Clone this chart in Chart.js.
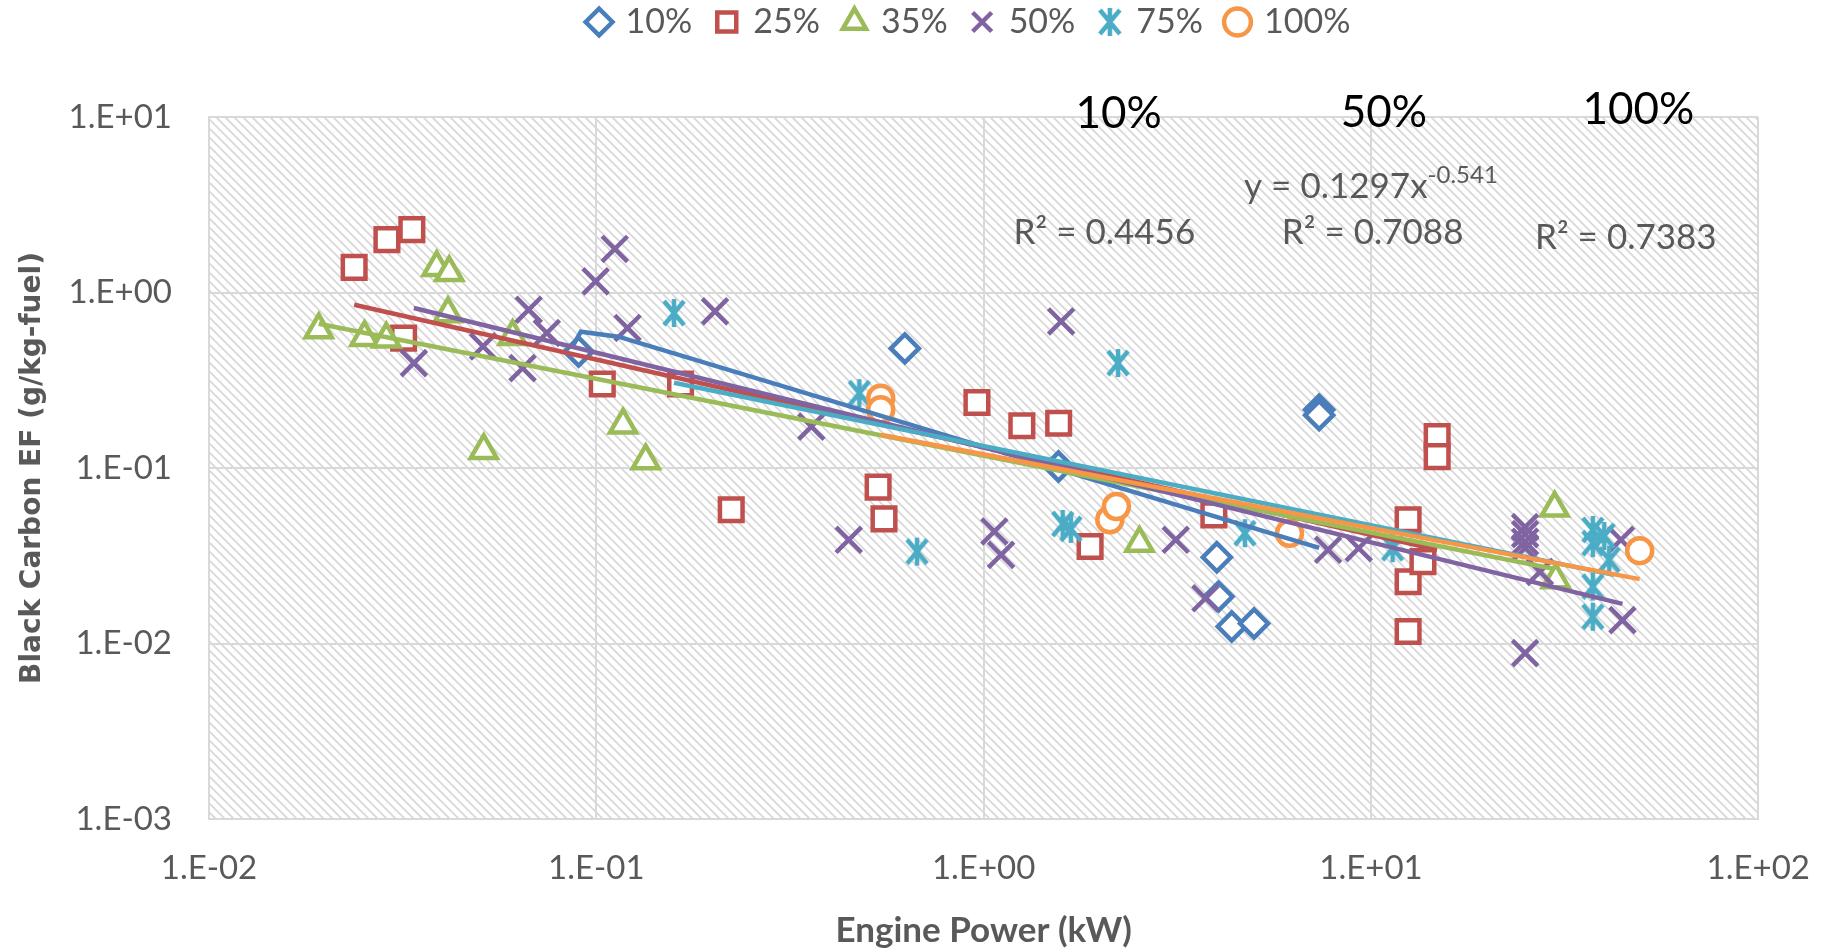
<!DOCTYPE html>
<html>
<head>
<meta charset="utf-8">
<script src="https://cdn.jsdelivr.net/npm/chart.js@4.4.1/dist/chart.umd.min.js"></script>
<style>
  html, body { margin: 0; padding: 0; background: #fff; }
  #wrap { width: 1840px; height: 949px; }
</style>
</head>
<body>
<div id="wrap"><canvas id="chart" width="1840" height="949"></canvas></div>
<script>
// engine load series (x = engine power kW, y = black carbon EF g/kg-fuel)
var loadNames = ['10%', '25%', '35%', '50%', '75%', '100%']
var loadColors = ['#4A7EBB', '#C0504D', '#9BBB59', '#8064A2', '#4BACC6', '#F79646']

var x10 = [0.090, 0.626, 1.56, 7.35, 7.35, 4.00, 4.04, 4.37, 4.99]
var y10 = [0.46, 0.48, 0.102, 0.215, 0.200, 0.031, 0.0185, 0.0125, 0.013]

var x25 = [0.0237, 0.0288, 0.0334, 0.0318, 0.1036, 0.165, 0.223, 0.534, 0.553, 0.961, 1.255, 1.562, 1.883, 3.93, 12.47, 12.47, 12.47, 13.62, 14.82, 14.82]
var y25 = [1.39, 2.00, 2.28, 0.55, 0.301, 0.301, 0.0578, 0.0778, 0.0513, 0.236, 0.174, 0.180, 0.0357, 0.0541, 0.0507, 0.0225, 0.0117, 0.0293, 0.151, 0.116]

var x35 = [0.0192, 0.0252, 0.0287, 0.0387, 0.0417, 0.0414, 0.0608, 0.0512, 0.1172, 0.1341, 2.525, 29.8, 30.0]
var y35 = [0.614, 0.555, 0.543, 1.39, 1.30, 0.757, 0.562, 0.126, 0.176, 0.110, 0.0373, 0.0591, 0.0231]

var x50 = [0.0338, 0.0510, 0.0669, 0.0745, 0.0645, 0.0996, 0.1116, 0.1204, 0.2025, 0.359, 0.4485, 1.066, 1.109, 1.585, 3.133, 3.738, 7.749, 9.296, 25.0, 25.0, 25.0, 25.0, 25.0, 27.3, 44.2, 44.6]
var y50 = [0.396, 0.493, 0.798, 0.588, 0.371, 1.157, 1.77, 0.628, 0.780, 0.172, 0.039, 0.0435, 0.032, 0.684, 0.039, 0.0181, 0.0342, 0.0349, 0.046, 0.042, 0.038, 0.035, 0.00881, 0.0256, 0.039, 0.0136]

var x75 = [0.1587, 0.4775, 0.673, 1.60, 1.68, 2.223, 4.727, 11.37, 37.4, 37.4, 41.2, 37.4, 37.4, 40.0]
var y75 = [0.764, 0.267, 0.0334, 0.048, 0.045, 0.396, 0.0425, 0.0349, 0.0444, 0.0373, 0.0300, 0.0211, 0.0142, 0.041]

var x100 = [0.5423, 0.5423, 2.117, 2.202, 6.16, 49.4]
var y100 = [0.250, 0.215, 0.0507, 0.0603, 0.0425, 0.0338]

// power trendlines, ends
var trendX10 = [0.087, 0.0912, 0.114, 7.35]
var trendY10 = [0.497, 0.598, 0.560, 0.0351]
var trendX25 = [0.0237, 14.82]
var trendY25 = [0.852, 0.0342]
var trendX35 = [0.0192, 29.8]
var trendY35 = [0.664, 0.0266]
var trendX50 = [0.0338, 44.6]
var trendY50 = [0.816, 0.01682]
var trendX75 = [0.1587, 42.4]
var trendY75 = [0.306, 0.0246]
var trendX100 = [0.5423, 49.4]
var trendY100 = [0.1546, 0.02326]

var xTickVals = [0.01, 0.1, 1, 10, 100]
var xTickLabels = ['1.E-02', '1.E-01', '1.E+00', '1.E+01', '1.E+02']
var yTickVals = [0.001, 0.01, 0.1, 1, 10]
var yTickLabels = ['1.E-03', '1.E-02', '1.E-01', '1.E+00', '1.E+01']

// text on the plot
var loadTags = ['10%', '50%', '100%']
var loadTagX = [2.23, 10.8, 49.0]
var loadTagY = [10.4, 10.6, 11.0]
var r2Text = ['R\u00b2 = 0.4456', 'R\u00b2 = 0.7088', 'R\u00b2 = 0.7383']
var r2X = [2.05, 10.1, 45.5]
var r2Y = [2.19, 2.19, 2.05]
var eqText = 'y = 0.1297x'
var eqPow = '-0.541'
var eqX = 10.0, eqY = 4.01

function pts(xs, ys) {
  return xs.map(function (x, i) { return { x: x, y: ys[i] } })
}

function asterisk(color) {
  var c = document.createElement('canvas')
  c.width = 32; c.height = 32
  var g = c.getContext('2d')
  g.strokeStyle = color
  g.lineWidth = 4.5
  g.beginPath()
  g.moveTo(6, 4); g.lineTo(26, 28)
  g.moveTo(26, 4); g.lineTo(6, 28)
  g.moveTo(16, 2); g.lineTo(16, 30)
  g.stroke()
  return c
}

function hatchPattern(ctx) {
  var c = document.createElement('canvas')
  c.width = 9; c.height = 9
  var g = c.getContext('2d')
  g.fillStyle = '#fff'
  g.fillRect(0, 0, 9, 9)
  g.strokeStyle = '#d8d8d8'
  g.lineWidth = 1.8
  g.beginPath()
  for (var k = -9; k <= 9; k += 9) {
    g.moveTo(k - 1, -1); g.lineTo(k + 10, 10)
  }
  g.stroke()
  return ctx.createPattern(c, 'repeat')
}

var pointXs = [x10, x25, x35, x50, x75, x100]
var pointYs = [y10, y25, y35, y50, y75, y100]
var trendXs = [trendX10, trendX25, trendX35, trendX50, trendX75, trendX100]
var trendYs = [trendY10, trendY25, trendY35, trendY50, trendY75, trendY100]
var styles = ['rectRot', 'rect', 'triangle', 'crossRot', asterisk(loadColors[4]), 'circle']
var radii = [14, 16, 15, 18, 16, 12.5]

var datasets = []
for (var i = 0; i < 6; i++) {
  datasets.push({
    label: loadNames[i],
    data: pts(pointXs[i], pointYs[i]),
    pointStyle: styles[i],
    pointRadius: radii[i],
    pointBorderWidth: 4.5,
    borderWidth: 4.5,
    borderColor: loadColors[i],
    backgroundColor: '#fff',
    pointBackgroundColor: '#fff',
    pointBorderColor: loadColors[i],
    showLine: false,
    order: 12 - i
  })
}
for (var j = 0; j < 6; j++) {
  datasets.push({
    label: loadNames[j] + ' trend',
    data: pts(trendXs[j], trendYs[j]),
    showLine: true,
    pointRadius: 0,
    borderColor: loadColors[j],
    borderWidth: 4.5,
    fill: false,
    tension: 0,
    order: 6 - j
  })
}

var layoutFix = {
  id: 'layoutFix',
  beforeInit: function (chart) {
    var fit = chart.legend.fit
    chart.legend.fit = function () {
      fit.call(this)
      this.height = 117
    }
  },
  afterLayout: function (chart) {
    // legend sits a bit higher and right of the default centre
    chart.legend.top -= 20
    chart.legend.left += 82
    chart.legend.right += 82
  },
  beforeDraw: function (chart) {
    var ctx = chart.ctx, a = chart.chartArea
    ctx.save()
    ctx.fillStyle = '#fff'
    ctx.fillRect(0, 0, chart.width, chart.height)
    ctx.fillStyle = hatchPattern(ctx)
    ctx.fillRect(a.left, a.top, a.right - a.left, a.bottom - a.top)
    ctx.restore()
  }
}

var notes = {
  id: 'notes',
  afterDraw: function (chart) {
    var ctx = chart.ctx, xs = chart.scales.x, ys = chart.scales.y
    ctx.save()
    ctx.textAlign = 'center'
    ctx.textBaseline = 'middle'
    ctx.fillStyle = '#000'
    ctx.font = '44px Lato'
    for (var i = 0; i < loadTags.length; i++) {
      ctx.fillText(loadTags[i], xs.getPixelForValue(loadTagX[i]), ys.getPixelForValue(loadTagY[i]))
    }
    ctx.fillStyle = '#595959'
    ctx.font = '35px Lato'
    for (var k = 0; k < r2Text.length; k++) {
      ctx.fillText(r2Text[k], xs.getPixelForValue(r2X[k]), ys.getPixelForValue(r2Y[k]))
    }
    var cx = xs.getPixelForValue(eqX), cy = ys.getPixelForValue(eqY)
    var w1 = ctx.measureText(eqText).width
    ctx.font = '24px Lato'
    var w2 = ctx.measureText(eqPow).width
    var left = cx - (w1 + w2) / 2
    ctx.textAlign = 'left'
    ctx.font = '35px Lato'
    ctx.fillText(eqText, left, cy)
    ctx.font = '24px Lato'
    ctx.fillText(eqPow, left + w1, cy - 11)
    ctx.restore()
  }
}

Chart.defaults.font.family = 'Lato'
Chart.defaults.color = '#595959'

var ctx = document.getElementById('chart').getContext('2d')
var myChart = new Chart(ctx, {
  type: 'scatter',
  data: { datasets: datasets },
  options: {
    responsive: false,
    animation: false,
    devicePixelRatio: 1,
    layout: { padding: { left: 0, right: 64, top: 0, bottom: 0 } },
    plugins: {
      tooltip: { enabled: false },
      legend: {
        position: 'top',
        labels: {
          usePointStyle: true,
          boxHeight: 19,
          boxWidth: 19,
          padding: 25,
          color: '#595959',
          font: { size: 34 },
          filter: function (item) { return item.datasetIndex < 6 },
          sort: function (a, b) { return a.datasetIndex - b.datasetIndex }
        }
      }
    },
    scales: {
      x: {
        type: 'logarithmic',
        min: 0.01,
        max: 100,
        afterBuildTicks: function (scale) {
          scale.ticks = xTickVals.map(function (v) { return { value: v } })
        },
        afterFit: function (scale) { scale.height = 130 },
        grid: { color: '#d9d9d9', lineWidth: 2, drawTicks: false },
        border: { color: '#d9d9d9', width: 2 },
        ticks: {
          padding: 30,
          color: '#595959',
          font: { size: 33 },
          callback: function (v) { return xTickLabels[xTickVals.indexOf(v)] }
        },
        title: {
          display: true,
          text: 'Engine Power (kW)',
          color: '#595959',
          font: { size: 35, weight: 'bold', lineHeight: 1.05 },
          padding: { top: 0, bottom: 0 }
        }
      },
      y: {
        type: 'logarithmic',
        min: 0.001,
        max: 10,
        afterBuildTicks: function (scale) {
          scale.ticks = yTickVals.map(function (v) { return { value: v } })
        },
        afterFit: function (scale) { scale.width = 209 },
        grid: { color: '#d9d9d9', lineWidth: 2, drawTicks: false },
        border: { color: '#d9d9d9', width: 2 },
        ticks: {
          padding: 37,
          color: '#595959',
          font: { size: 33 },
          callback: function (v) { return yTickLabels[yTickVals.indexOf(v)] }
        },
        title: {
          display: true,
          text: 'Black Carbon EF (g/kg-fuel)',
          color: '#595959',
          font: { family: 'DejaVu Sans', size: 28, weight: 'bold' },
          padding: { top: 16, bottom: 0 }
        }
      }
    }
  },
  plugins: [layoutFix, notes]
})
</script>
</body>
</html>
